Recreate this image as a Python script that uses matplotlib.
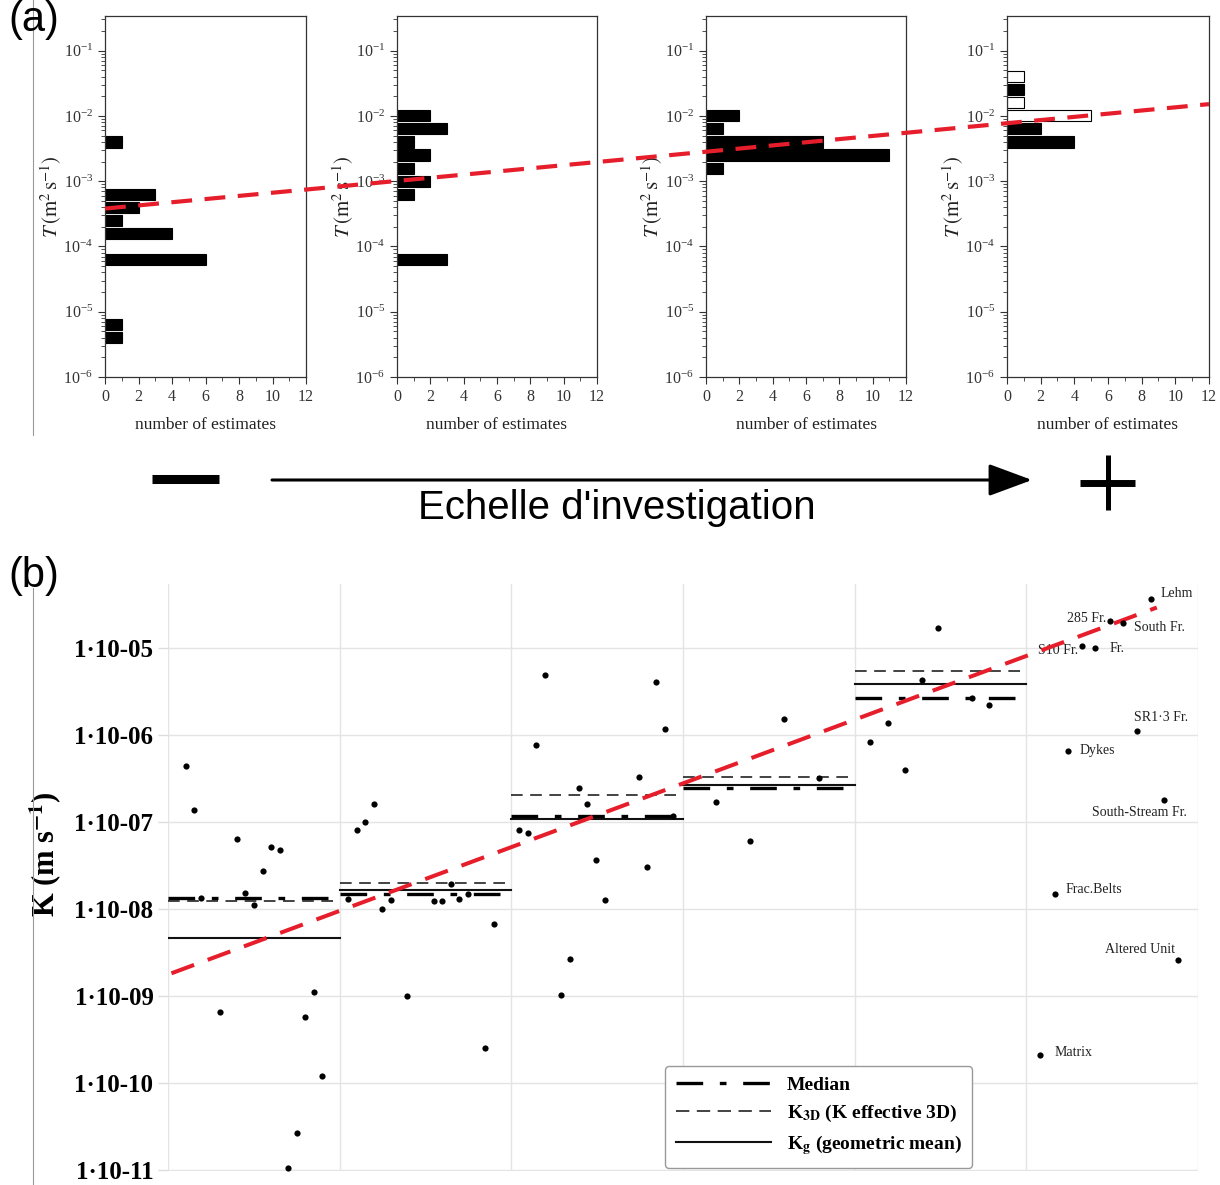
import numpy as np
import matplotlib
matplotlib.use("Agg")
import matplotlib.pyplot as plt
from matplotlib.lines import Line2D
from matplotlib.ticker import LogLocator, NullFormatter, MultipleLocator, FixedLocator, FixedFormatter

W, H = 1220, 1185
RED = "#e61e2b"

plt.rcParams["font.family"] = ["Liberation Serif", "DejaVu Serif"]
plt.rcParams["mathtext.fontset"] = "stix"

# ---- panel (a): histograms of log10 T (bin centre, count) per scale of investigation
hist_centres = [
    [-2.4, -3.2, -3.4, -3.6, -3.8, -4.2, -5.2, -5.4],
    [-2.0, -2.2, -2.4, -2.6, -2.8, -3.0, -3.2, -4.2],
    [-2.0, -2.2, -2.4, -2.6, -2.8],
    [-1.4, -1.6, -1.8, -2.0, -2.2, -2.4],
]
hist_counts = [
    [1, 3, 2, 1, 4, 6, 1, 1],
    [2, 3, 1, 2, 1, 2, 1, 3],
    [2, 1, 7, 11, 1],
    [1, 1, 1, 5, 2, 4],
]
hist_hollow = [
    [False] * 8,
    [False] * 8,
    [False] * 5,
    [True, False, True, True, False, False],
]
# trend across the four histograms (fraction of width, log10 T)
trend_a_pos = [0.0, 1.0]
trend_a_logT = [-3.42, -1.82]

# ---- panel (b): K values per group (x position in group units, log10 K)
g1_x = [0.105, 0.151, 0.401, 0.599, 0.651, 0.552, 0.192, 0.448, 0.500, 0.302, 0.849, 0.797, 0.895, 0.750, 0.698]
g1_logK = [-6.36, -6.87, -7.20, -7.29, -7.32, -7.57, -7.87, -7.82, -7.96, -9.18, -8.96, -9.24, -9.92, -10.57, -10.98]
g2_x = [1.099, 1.145, 1.198, 1.047, 1.297, 1.244, 1.395, 1.547, 1.599, 1.651, 1.698, 1.750, 1.901, 1.849]
g2_logK = [-7.10, -7.00, -6.80, -7.89, -7.90, -8.00, -9.00, -7.91, -7.91, -7.71, -7.89, -7.83, -8.17, -9.60]
g3_x = [2.198, 2.145, 2.843, 2.895, 2.395, 2.442, 2.744, 2.047, 2.099, 2.494, 2.791, 2.547, 2.343, 2.291, 2.942]
g3_logK = [-5.32, -6.12, -5.40, -5.93, -6.61, -6.80, -6.49, -7.10, -7.13, -7.44, -7.52, -7.90, -8.58, -8.99, -6.93]
g4_x = [3.587, 3.192, 3.390, 3.791]
g4_logK = [-5.82, -6.77, -7.22, -6.50]
g5_x = [4.488, 4.390, 4.192, 4.087, 4.291, 4.686, 4.785]
g5_logK = [-4.78, -5.37, -5.87, -6.08, -6.41, -5.58, -5.66]

# summary values per group (log10 K)
median_logK = [-7.87, -7.83, -6.93, -6.61, -5.58]
k3d_logK = [-7.91, -7.70, -6.69, -6.49, -5.27]
kg_logK = [-8.33, -7.78, -6.97, -6.58, -5.42]

# named large-scale units
unit_names = ["Lehm", "285 Fr.", "South Fr.", "S10 Fr.", "Fr.", "SR1·3 Fr.", "Dykes",
              "South-Stream Fr.", "Frac.Belts", "Altered Unit", "Matrix"]
unit_x = [5.727, 5.488, 5.564, 5.326, 5.401, 5.645, 5.244, 5.802, 5.169, 5.884, 5.081]
unit_logK = [-4.44, -4.69, -4.72, -4.98, -5.00, -5.96, -6.19, -6.75, -7.83, -8.59, -9.68]
# label placement (offset in points, horizontal alignment)
unit_offset = [(7, 4), (-3, 1.5), (8, -3), (-3, -3.5), (10, -1), (17, 10), (8, 0.5),
               (-18, -9), (7, 3), (-2, 8), (10, 2)]
unit_ha = ["left", "right", "left", "right", "left", "center", "left",
           "center", "left", "right", "left"]

# trend in panel (b)
trend_b_x = [0.02, 5.76]
trend_b_logK = [-8.74, -4.54]


def frect(x0, x1, y0, y1):
    return [x0 / W, 1 - y1 / H, (x1 - x0) / W, (y1 - y0) / H]


fig = plt.figure(figsize=(W / 100, H / 100), dpi=100)

# ---------------- panel (a)
boxes = [(105, 306), (397, 597), (706, 906), (1007, 1209)]
top_a, bot_a = 16, 377
ylim_a = (1e-6, 10 ** -0.47)

for i, (x0, x1) in enumerate(boxes):
    ax = fig.add_axes(frect(x0, x1, top_a, bot_a))
    ax.set_yscale("log")
    for c, n, hollow in zip(hist_centres[i], hist_counts[i], hist_hollow[i]):
        lo, hi = 10 ** (c - 0.085), 10 ** (c + 0.085)
        ax.barh(lo, n, height=hi - lo, align="edge",
                color="white" if hollow else "black", edgecolor="black", lw=0.8)
    ax.set_xlim(0, 12)
    ax.set_ylim(*ylim_a)
    ax.xaxis.set_major_locator(MultipleLocator(2))
    ax.xaxis.set_minor_locator(MultipleLocator(1))
    ax.yaxis.set_major_locator(LogLocator(base=10, numticks=12))
    ax.yaxis.set_minor_locator(LogLocator(base=10, subs=np.arange(2, 10), numticks=12))
    ax.yaxis.set_minor_formatter(NullFormatter())
    ax.tick_params(which="major", length=5, width=0.8, labelsize=11.5, colors="#333")
    ax.tick_params(which="minor", length=3, width=0.6, colors="#333")
    for s in ax.spines.values():
        s.set_linewidth(0.9)
        s.set_color("#333")
    ax.set_xlabel("number of estimates", fontsize=12.5, color="#222", labelpad=9)
    ax.set_ylabel(r"$T\,(\mathrm{m}^2\,\mathrm{s}^{-1})$", fontsize=15, color="#222")
    ax.yaxis.set_label_coords(-0.205, 0.5)

ov = fig.add_axes(frect(boxes[0][0], boxes[-1][1], top_a, bot_a))
ov.set_yscale("log")
ov.set_xlim(0, 1)
ov.set_ylim(*ylim_a)
ov.axis("off")
ov.plot(trend_a_pos, 10 ** np.array(trend_a_logT), color=RED, lw=3, ls=(0, (5, 3)),
        solid_capstyle="butt", dash_capstyle="butt")

# ---------------- scale arrow
fig.add_artist(Line2D([152 / W, 219 / W], [1 - 479 / H] * 2, lw=6.5, color="black",
                      solid_capstyle="butt"))
fig.add_artist(Line2D([1080 / W, 1135 / W], [1 - 483 / H] * 2, lw=5, color="black",
                      solid_capstyle="butt"))
fig.add_artist(Line2D([1108 / W] * 2, [1 - 455 / H, 1 - 510 / H], lw=3.6, color="black",
                      solid_capstyle="butt"))
fig.add_artist(Line2D([33 / W] * 2, [1, 1 - 435 / H], lw=0.8, color="#999"))
fig.add_artist(Line2D([33 / W] * 2, [1 - 588 / H, 0], lw=0.8, color="#999"))
fig.patches.append(matplotlib.patches.FancyArrowPatch(
    (272, H - 480), (1032, H - 480), transform=None, arrowstyle="-|>,head_length=1.35,head_width=0.5",
    mutation_scale=20, lw=2.2, color="black", shrinkA=0, shrinkB=0))
fig.text(617 / W, 1 - 508 / H, "Echelle d'investigation", family="Liberation Sans",
         fontsize=29, ha="center", va="center")
fig.text(8 / W, 1 - 20 / H, "(a)", family="Liberation Sans", fontsize=30, va="center")
fig.text(8 / W, 1 - 576 / H, "(b)", family="Liberation Sans", fontsize=30, va="center")

# ---------------- panel (b)
axb = fig.add_axes(frect(168, 1198, 584, 1171))
axb.set_yscale("log")
axb.set_xlim(0, 6)
axb.set_ylim(10 ** -11.01, 10 ** -4.27)
exps = list(range(-5, -12, -1))
axb.yaxis.set_major_locator(FixedLocator([10.0 ** e for e in exps]))
axb.yaxis.set_major_formatter(FixedFormatter([f"1·10-{-e:02d}" for e in exps]))
axb.yaxis.set_minor_locator(FixedLocator([]))
axb.set_xticks(range(7))
axb.set_xticklabels([])
axb.tick_params(axis="x", length=0)
axb.tick_params(axis="y", length=7.5, width=1, color="#dddddd", labelsize=18, pad=3)
for lab in axb.get_yticklabels():
    lab.set_fontweight("bold")
for s in axb.spines.values():
    s.set_visible(False)
axb.grid(True, color="#e4e4e4", lw=1)
axb.set_axisbelow(True)
axb.set_ylabel(r"K (m s$^{\mathbf{-1}}$)", fontsize=22, fontweight="bold")
axb.yaxis.set_label_coords(-0.101, 0.54)

med_ls = (0, (8, 5, 2, 5))
k3d_ls = (0, (7, 4.5))
for g in range(5):
    axb.plot([g, g + 1], [10 ** k3d_logK[g]] * 2, color="#222", lw=1.2, ls=k3d_ls, zorder=3)
    axb.plot([g, g + 1], [10 ** kg_logK[g]] * 2, color="#111", lw=1.5, zorder=3)
    axb.plot([g, g + 1], [10 ** median_logK[g]] * 2, color="black", lw=2.4, ls=med_ls, zorder=3)

axb.plot(trend_b_x, 10 ** np.array(trend_b_logK), color=RED, lw=2.9, ls=(0, (6, 3.6)), zorder=4)

for xs, ks in [(g1_x, g1_logK), (g2_x, g2_logK), (g3_x, g3_logK), (g4_x, g4_logK), (g5_x, g5_logK)]:
    axb.scatter(xs, 10 ** np.array(ks), s=20, color="black", zorder=5, linewidths=0)
axb.scatter(unit_x, 10 ** np.array(unit_logK), s=20, color="black", zorder=5, linewidths=0)
for name, x, k, off, ha in zip(unit_names, unit_x, unit_logK, unit_offset, unit_ha):
    axb.annotate(name, (x, 10 ** k), xytext=off, textcoords="offset points",
                 ha=ha, va="center", fontsize=10, color="#222")

handles = [
    Line2D([], [], color="black", lw=2.4, ls=med_ls),
    Line2D([], [], color="#222", lw=1.2, ls=(0, (8, 4.5))),
    Line2D([], [], color="#111", lw=1.5),
]
labels = ["Median", r"K$_{\mathbf{3D}}$ (K effective 3D)", r"K$_{\mathbf{g}}$ (geometric mean)"]
leg = axb.legend(handles, labels, loc="upper left", bbox_to_anchor=(665 / W, 1 - 1066 / H),
                 bbox_transform=fig.transFigure, borderaxespad=0, fancybox=True,
                 prop={"family": "Liberation Serif", "weight": "bold", "size": 14},
                 handlelength=4.9, handletextpad=0.8, labelspacing=0.45, borderpad=0.55,
                 framealpha=1, edgecolor="#999")
leg.get_frame().set_linewidth(1)

fig.savefig("out.png", dpi=100)
